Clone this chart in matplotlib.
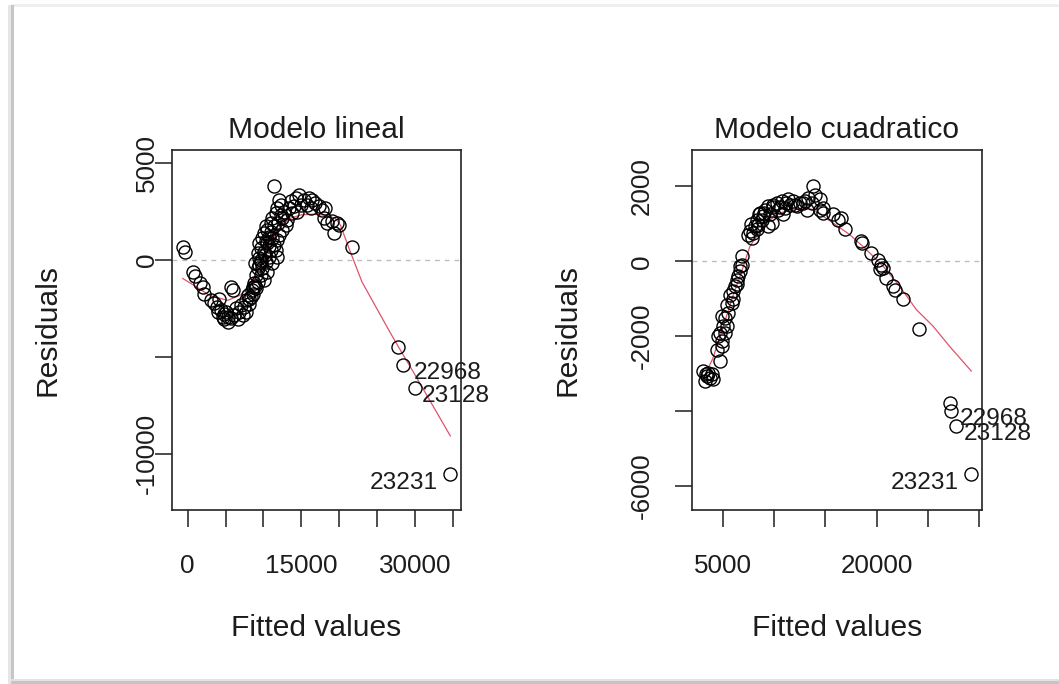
import matplotlib
matplotlib.use("Agg")
import matplotlib.pyplot as plt
from matplotlib.patches import Rectangle

plt.rcParams["font.family"] = ["Liberation Sans", "DejaVu Sans"]

# ---- Modelo lineal: fitted values and residuals ----
fitted_lin = [
    -650, -320, 700, 1000, 1570, 2000, 2220, 3100, 3530, 4190, 3880, 3970, 4410,
    4850, 4630, 5060, 5280, 5280, 4850, 5720, 6160, 6590, 5720, 5940, 6380, 6810,
    7030, 7470, 7250, 7690, 7690, 8120, 8120, 7900, 8560, 8430, 8560, 8780, 9220,
    9000, 9650, 10090, 9220, 9870, 8870, 9650, 10310, 9430, 10750, 9220, 10090,
    9650, 10960, 9430, 10530, 11400, 9870, 11180, 10750, 11840, 10090, 12060,
    10530, 12490, 10310, 11400, 10960, 12930, 11180, 12490, 13150, 11620, 12710,
    11840, 12280, 12060, 10530, 11180, 11840, 11620, 11400, 9400, 9000, 10200,
    10700, 11000, 11900, 12300, 8300, 8900, 9700, 10400,
    13590, 14240, 14680, 15330, 15990, 16430, 16860, 17300, 17740, 18170, 14020,
    13800, 14460, 14900, 13370, 15770, 16210, 17960, 18390, 19050, 19700, 19270,
    19920, 21730,
    27760, 28380, 29950, 34640,
]
resid_lin = [
    690, 400, -640, -810, -1210, -1380, -1730, -2070, -2210, -1990, -2420, -2680,
    -2590, -2760, -2940, -2680, -2940, -3200, -3020, -2990, -2850, -3020, -1380,
    -1560, -2500, -2680, -2330, -2420, -2850, -2680, -2070, -2250, -1990, -1810,
    -1730, -1560, -1380, -1210, -1120, -780, -780, -1040, -430, -430, -170, -90,
    -90, 90, 170, 350, 430, 600, 520, 860, 860, 780, 1120, 1120, 1210, 1040,
    1380, 1300, 1550, 1550, 1730, 1730, 1900, 1810, 2160, 2160, 2070, 2420, 2500,
    2680, 2850, 3110, -610, -170, 170, 520, 3800, -250, -1450, 250,
    700, 1450, 1900, 2300, -1900, -1350, 0, 1000,
    3020, 3190, 3370, 3110, 3190, 3110, 2940, 2760, 2590, 2680, 2760, 2420, 2500,
    2850, 2680, 2850, 2680, 2160, 1900, 1990, 1900, 1380, 1810, 660,
    -4490, -5390, -6590, -11020,
]
smooth_lin_x = [-650, 1000, 3000, 5300, 7000, 8500, 9600, 10500, 11500, 12500,
                13500, 15000, 16500, 18000, 19500, 20140, 21450, 22980, 26550,
                27760, 29950, 34640]
smooth_lin_y = [-950, -1350, -1850, -2080, -1800, -1200, -300, 500, 1250, 1800,
                2150, 2330, 2360, 2320, 2150, 1810, 430, -1120, -3630, -4450,
                -5900, -9070]

# ---- Modelo cuadratico: fitted values and residuals ----
fitted_quad = [
    3020, 3250, 3410, 3570, 3730, 3900, 4060, 3300,
    4380, 4710, 4870, 4870, 4550, 4710, 5030, 5200, 4870, 5200, 5360, 5520, 5360,
    5850, 6010, 5680, 6010, 6170, 6330, 6330, 6500, 6660, 6660, 6820, 6820,
    7630, 7800, 7960, 8120, 8280, 8280, 8450, 8610, 8770, 8930, 9100, 9420, 9420,
    9580, 9750, 9910, 10230, 10400, 10720, 10880, 11050, 11370, 11530, 11860,
    12180, 12510, 13000, 13320, 13650, 13970, 13780, 14460, 14780, 7700, 8500,
    9000, 9900, 10600, 11200, 12000, 12800, 7450,
    13160, 14460, 14780, 15760, 16570, 16250, 16900, 18520, 18620, 19500, 20150,
    20470, 20630, 20310, 20960, 21610, 21770, 22580, 24110,
    27200, 27300, 27720, 29250,
]
resid_quad = [
    -2930, -3200, -3070, -2980, -3110, -3020, -3140, -3000,
    -2360, -2670, -2270, -2130, -2000, -1910, -1730, -1910, -1470, -1510, -1730,
    -1380, -1160, -1110, -1020, -890, -800, -670, -620, -490, -400, -270, -130,
    -90, 130,
    800, 620, 760, 930, 850, 1110, 980, 1290, 1110, 1200, 1380, 1470, 930, 1250,
    1020, 1510, 1560, 1380, 1600, 1250, 1420, 1650, 1510, 1600, 1470, 1560, 1600,
    1690, 1560, 1780, 2000, 1650, 1420, 1000, 1250, 1300, 1450, 1450, 1550, 1500,
    1550, 700,
    1380, 1380, 1290, 1250, 1160, 1110, 850, 530, 490, 220, 40, -90, -180, -220,
    -450, -670, -760, -1000, -1820,
    -3780, -4000, -4400, -5670,
]
smooth_quad_x = [3020, 4000, 5030, 6000, 6660, 7630, 8930, 10230, 11530, 12830,
                 13810, 15760, 17380, 19010, 20630, 22260, 23880, 25510, 27130,
                 29250]
smooth_quad_y = [-3150, -2600, -1730, -900, -400, 400, 930, 1250, 1380, 1420,
                 1380, 1020, 710, 310, -130, -670, -1290, -1730, -2270, -2930]

# Observation ids printed next to the largest residuals
ids = ["22968", "23128", "23231"]
ids_lin_idx = [-3, -2, -1]
ids_quad_idx = [-3, -2, -1]

ink = "#1c1c1c"
smooth_col = "#DF536B"
W, H = 1059, 684

fig = plt.figure(figsize=(W / 100, H / 100), dpi=100)
fig.patch.set_facecolor("white")

# picture frame: thin grey border with soft shadow on the left and bottom
def px_rect(x0, y0, w, h, color, alpha=1.0):
    fig.add_artist(Rectangle((x0 / W, 1 - (y0 + h) / H), w / W, h / H,
                             transform=fig.transFigure, facecolor=color,
                             edgecolor="none", alpha=alpha, zorder=0))

px_rect(12, 4, W - 12, 3, "#efefef")
px_rect(8, 5, 3, H - 5, "#e6e6e6")
px_rect(11, 5, 3, H - 5, "#c6c6c6")
px_rect(11, 679, W - 11, 2, "#e2e2e2")
px_rect(11, 681, W - 11, 3, "#c4c4c4")


def r_range(vals, f=0.0):
    lo, hi = min(vals), max(vals)
    d = hi - lo
    lo, hi = lo - f * d, hi + f * d
    pad = 0.04 * (hi - lo)
    return lo - pad, hi + pad


def panel(rect, fx, rs, sx, sy, title, xticks, xlabels, yticks, ylabels, id_idx,
          id_offsets, ypad):
    ax = fig.add_axes([rect[0] / W, 1 - (rect[1] + rect[3]) / H,
                       rect[2] / W, rect[3] / H])
    ax.axhline(0, color="#bebebe", lw=1.0, ls=(0, (3.5, 3.5)), zorder=1)
    ax.plot(fx, rs, ls="none", marker="o", ms=9.4, mfc="none", mec="black",
            mew=1.0, zorder=3)
    ax.plot(sx, sy, color=smooth_col, lw=0.9, zorder=2)
    ax.set_xlim(*r_range(fx))
    ax.set_ylim(*r_range(rs, 0.08))
    ax.set_xticks(xticks)
    ax.set_xticklabels(xlabels)
    ax.set_yticks(yticks)
    ax.set_yticklabels(ylabels, rotation=90, va="center", ha="center")
    ax.tick_params(axis="x", length=12, width=1.1, pad=20, labelsize=18.7,
                   colors=ink)
    ax.tick_params(axis="y", length=12, width=1.1, pad=ypad, labelsize=18.7,
                   colors=ink)
    for s in ax.spines.values():
        s.set_linewidth(1.2)
        s.set_color("#222222")
    ax.text(0.5, 1.0556, title, transform=ax.transAxes, ha="center",
            va="center", fontsize=21.6, color=ink)
    ax.text(0.5, -0.328, "Fitted values", transform=ax.transAxes,
            ha="center", va="center", fontsize=21.6, color=ink)
    ax.text(-125 / rect[2], 0.5, "Residuals", transform=ax.transAxes,
            rotation=90, ha="center", va="center", fontsize=21.6, color=ink)
    for lab, i, (dx, dy, ha) in zip(ids, id_idx, id_offsets):
        ax.annotate(lab, (fx[i], rs[i]), xytext=(dx, dy),
                    textcoords="offset points", ha=ha, va="center",
                    fontsize=17.6, color=ink, annotation_clip=False)
    return ax


panel((172, 150, 289, 360), fitted_lin, resid_lin, smooth_lin_x, smooth_lin_y,
      "Modelo lineal",
      [0, 5000, 10000, 15000, 20000, 25000, 30000, 35000],
      ["0", "", "", "15000", "", "", "30000", ""],
      [5000, 0, -5000, -10000], ["5000", "0", "", "-10000"],
      ids_lin_idx,
      [(8, -6, "left"), (5, -6, "left"), (-9, -7, "right")], 6)

panel((692, 150, 290, 360), fitted_quad, resid_quad, smooth_quad_x, smooth_quad_y,
      "Modelo cuadratico",
      [5000, 10000, 15000, 20000, 25000, 30000],
      ["5000", "", "", "20000", "", ""],
      [2000, 0, -2000, -4000, -6000], ["2000", "0", "-2000", "", "-6000"],
      ids_quad_idx,
      [(6, -6, "left"), (6, -6, "left"), (-9, -7, "right")], 24)

fig.savefig("out.png", dpi=100, facecolor="white")
